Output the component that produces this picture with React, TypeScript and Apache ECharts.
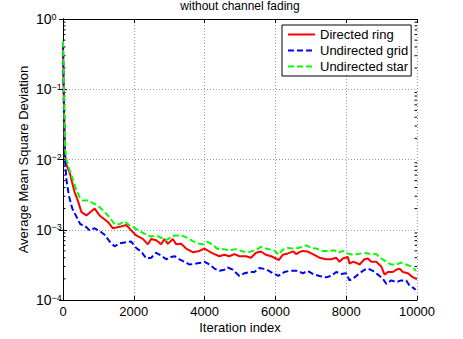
import { useEffect, useRef } from "react";
import * as echarts from "echarts";

const FONT = '"Liberation Sans", Arial, Helvetica, sans-serif';

const titleText = "without channel fading";
const xName = "Iteration index";
const yName = "Average Mean Square Deviation";
const seriesNames = ["Directed ring", "Undirected grid", "Undirected star"];
const seriesColors = ["#ff0000", "#0000ff", "#00ff00"];
const yDecades = [1, 0.1, 0.01, 0.001, 0.0001];

// Directed ring (red, solid)
const ringIter = [0, 30, 60, 90, 190, 330, 420, 517, 660, 893, 1034, 1269, 1410, 1598, 1786, 1927, 2068, 2256, 2397, 2491, 2632, 2773, 2867, 2961, 3102, 3196, 3337, 3478, 3666, 3854, 3995, 4136, 4277, 4418, 4559, 4700, 4841, 4982, 5170, 5311, 5452, 5593, 5734, 5875, 6016, 6094, 6207, 6349, 6443, 6509, 6585, 6679, 6773, 6915, 7056, 7245, 7433, 7575, 7716, 7811, 7905, 8046, 8093, 8188, 8282, 8376, 8518, 8612, 8706, 8848, 8989, 9084, 9178, 9319, 9414, 9508, 9602, 9744, 9885, 10000];
const ringMsd = [0.42, 0.045, 0.012, 0.0085, 0.0065, 0.0034, 0.0026, 0.0018, 0.0016, 0.002, 0.0016, 0.00129, 0.00105, 0.0011, 0.00117, 0.00098, 8.3e-4, 7.4e-4, 6.2e-4, 7.4e-4, 7.1e-4, 6.2e-4, 7.4e-4, 6.3e-4, 7.4e-4, 6.2e-4, 6.3e-4, 5.4e-4, 4.8e-4, 5.0e-4, 5.4e-4, 4.9e-4, 4.5e-4, 4.2e-4, 4.4e-4, 4.2e-4, 4.5e-4, 4.2e-4, 4.2e-4, 4.0e-4, 4.7e-4, 4.9e-4, 4.4e-4, 4.2e-4, 3.9e-4, 3.7e-4, 4.4e-4, 4.6e-4, 4.8e-4, 4.9e-4, 4.5e-4, 4.8e-4, 5.0e-4, 4.9e-4, 4.5e-4, 4.0e-4, 3.8e-4, 3.8e-4, 4.0e-4, 3.5e-4, 3.9e-4, 4.1e-4, 3.3e-4, 3.5e-4, 3.4e-4, 3.2e-4, 3.8e-4, 3.9e-4, 3.5e-4, 3.5e-4, 3.0e-4, 2.3e-4, 2.5e-4, 2.5e-4, 2.7e-4, 2.8e-4, 2.5e-4, 2.4e-4, 2.1e-4, 2.0e-4];

// Undirected grid (blue, dashed)
const gridIter = [0, 25, 56, 100, 170, 263, 376, 489, 611, 752, 893, 1034, 1175, 1316, 1457, 1598, 1740, 1927, 2068, 2209, 2350, 2491, 2632, 2773, 2914, 3055, 3149, 3290, 3431, 3572, 3760, 3900, 4000, 4136, 4277, 4418, 4559, 4653, 4794, 4982, 5123, 5264, 5405, 5546, 5734, 5875, 6080, 6255, 6396, 6537, 6632, 6773, 6915, 7056, 7245, 7433, 7575, 7716, 7858, 7999, 8093, 8235, 8376, 8518, 8612, 8754, 8895, 9037, 9131, 9272, 9414, 9555, 9697, 9791, 9885, 9961];
const gridMsd = [0.45, 0.06, 0.01, 0.005, 0.003, 0.002, 0.00155, 0.0012, 0.00115, 9.8e-4, 0.00105, 9.6e-4, 8.5e-4, 6.8e-4, 5.8e-4, 6.4e-4, 6.6e-4, 6.8e-4, 5.5e-4, 4.9e-4, 3.9e-4, 4.0e-4, 4.7e-4, 4.3e-4, 3.8e-4, 4.1e-4, 4.2e-4, 3.8e-4, 3.5e-4, 3.2e-4, 3.3e-4, 3.4e-4, 3.5e-4, 3.2e-4, 2.8e-4, 2.6e-4, 2.7e-4, 2.9e-4, 2.7e-4, 2.2e-4, 2.4e-4, 2.5e-4, 2.5e-4, 2.85e-4, 2.75e-4, 2.5e-4, 2.2e-4, 2.5e-4, 2.6e-4, 2.6e-4, 2.6e-4, 2.4e-4, 2.6e-4, 2.35e-4, 2.2e-4, 2.1e-4, 2.2e-4, 2.5e-4, 2.35e-4, 2.4e-4, 1.9e-4, 2.1e-4, 2.4e-4, 2.7e-4, 2.8e-4, 2.6e-4, 2.3e-4, 2.0e-4, 1.7e-4, 1.9e-4, 1.8e-4, 1.9e-4, 1.9e-4, 1.6e-4, 1.5e-4, 1.4e-4];

// Undirected star (green, dashed)
const starIter = [0, 30, 56, 94, 188, 282, 376, 470, 564, 705, 846, 987, 1128, 1316, 1457, 1598, 1740, 1880, 2021, 2162, 2350, 2491, 2632, 2773, 2914, 3008, 3102, 3243, 3384, 3525, 3666, 3807, 3948, 4089, 4230, 4371, 4512, 4700, 4888, 5076, 5264, 5453, 5594, 5736, 5877, 5990, 6080, 6207, 6349, 6490, 6632, 6773, 6868, 7009, 7150, 7339, 7528, 7669, 7763, 7905, 8046, 8188, 8329, 8518, 8706, 8848, 8989, 9131, 9272, 9414, 9555, 9697, 9838, 9980];
const starMsd = [0.48, 0.079, 0.015, 0.01, 0.0071, 0.0051, 0.0037, 0.0029, 0.0026, 0.0026, 0.0024, 0.0022, 0.0019, 0.0015, 0.0012, 0.0012, 0.00132, 0.00115, 0.00106, 9.6e-4, 8.5e-4, 8.0e-4, 8.3e-4, 7.7e-4, 7.1e-4, 7.6e-4, 8.2e-4, 8.3e-4, 8.2e-4, 7.6e-4, 6.9e-4, 6.4e-4, 6.2e-4, 6.7e-4, 6.1e-4, 5.3e-4, 5.3e-4, 5.1e-4, 5.3e-4, 4.9e-4, 4.8e-4, 5.2e-4, 5.7e-4, 5.4e-4, 5.2e-4, 5.0e-4, 4.4e-4, 5.2e-4, 5.5e-4, 5.4e-4, 5.5e-4, 5.7e-4, 6.0e-4, 5.5e-4, 5.4e-4, 5.0e-4, 5.0e-4, 5.1e-4, 4.7e-4, 5.0e-4, 4.6e-4, 4.4e-4, 4.5e-4, 4.7e-4, 4.5e-4, 4.5e-4, 3.9e-4, 3.5e-4, 3.2e-4, 3.2e-4, 3.4e-4, 3.2e-4, 3.0e-4, 2.6e-4];

const xMin = 0;
const xMax = 10000;
const xInterval = 2000;
const yMin = 1e-4;
const yMax = 1;

function zip(xs: number[], ys: number[]) {
  return xs.map((x, i) => [x, ys[i]]);
}

export default function App() {
  const ref = useRef<HTMLDivElement>(null);
  useEffect(() => {
    const chart = echarts.init(ref.current!, null, { renderer: "svg" });

    const minorVals: number[][] = [];
    for (let e = -4; e < 0; e++) {
      for (let m = 2; m <= 9; m++) {
        minorVals.push([0, m * Math.pow(10, e)]);
      }
    }

    const dotted = { color: "#9a9a9a", type: [1, 2] as any, width: 1 };
    const axisLineBlack = { show: true, lineStyle: { color: "#000", width: 1 } };

    const option: any = {
      animation: false,
      textStyle: { fontFamily: FONT },
      grid: { left: 63, right: 46, top: 19, bottom: 33 },
      graphic: [
        {
          type: "text",
          x: 240,
          y: 0,
          style: {
            text: titleText,
            fontSize: 12,
            fontFamily: FONT,
            fill: "#000",
            textAlign: "center",
            textVerticalAlign: "top",
          },
        },
      ],
      legend: {
        data: seriesNames,
        orient: "vertical",
        left: 282,
        top: 25,
        backgroundColor: "#fff",
        borderColor: "#000",
        borderWidth: 1,
        borderRadius: 0,
        padding: [3, 3, 3, 5],
        itemGap: 3,
        itemWidth: 27,
        itemHeight: 13,
        itemStyle: { opacity: 0 },
        textStyle: { fontSize: 13, color: "#000", fontFamily: FONT },
      },
      xAxis: [
        {
          type: "value",
          min: xMin,
          max: xMax,
          interval: xInterval,
          position: "bottom",
          axisLine: axisLineBlack,
          axisTick: { show: true, inside: true, length: 4, lineStyle: { color: "#000" } },
          axisLabel: { fontSize: 13, color: "#000", margin: 5, fontFamily: FONT, formatter: (v: number) => String(v) },
          splitLine: { show: true, lineStyle: dotted },
          name: xName,
          nameLocation: "middle",
          nameGap: 21,
          nameMoveOverlap: false,
          nameTextStyle: { fontSize: 13, color: "#000", fontFamily: FONT },
        },
        {
          type: "value",
          min: xMin,
          max: xMax,
          interval: xInterval,
          position: "top",
          axisLine: axisLineBlack,
          axisTick: { show: true, inside: true, length: 4, lineStyle: { color: "#000" } },
          axisLabel: { show: false },
          splitLine: { show: false },
        },
      ],
      yAxis: [
        {
          type: "log",
          logBase: 10,
          min: yMin,
          max: yMax,
          splitNumber: 4,
          position: "left",
          axisLine: axisLineBlack,
          axisTick: { show: true, inside: true, length: 4, lineStyle: { color: "#000" } },
          splitLine: { show: true, lineStyle: dotted },
          axisLabel: { show: false },
          name: yName,
          nameLocation: "middle",
          nameGap: 33,
          nameMoveOverlap: false,
          nameTextStyle: { fontSize: 13, color: "#000", fontFamily: FONT },
        },
        {
          type: "log",
          logBase: 10,
          min: yMin,
          max: yMax,
          splitNumber: 4,
          position: "right",
          axisLine: axisLineBlack,
          axisTick: { show: true, inside: true, length: 4, lineStyle: { color: "#000" } },
          axisLabel: { show: false },
          splitLine: { show: false },
        },
      ],
      series: [
        {
          type: "custom",
          silent: true,
          xAxisIndex: 0,
          yAxisIndex: 0,
          data: minorVals,
          renderItem: (params: any, api: any) => {
            const p = api.coord([0, api.value(1)]);
            const cs = params.coordSys;
            return {
              type: "group",
              children: [
                { type: "line", shape: { x1: cs.x, y1: p[1], x2: cs.x + 2.5, y2: p[1] }, style: { stroke: "#000", lineWidth: 1 } },
                { type: "line", shape: { x1: cs.x + cs.width - 2.5, y1: p[1], x2: cs.x + cs.width, y2: p[1] }, style: { stroke: "#000", lineWidth: 1 } },
              ],
            };
          },
        },
        {
          // y-axis tick labels (10^k), placed through the axis scale
          type: "custom",
          silent: true,
          clip: false,
          xAxisIndex: 0,
          yAxisIndex: 0,
          data: yDecades.map((v) => [0, v]),
          renderItem: (params: any, api: any) => {
            const v = api.value(1);
            const p = api.coord([0, v]);
            const cs = params.coordSys;
            const e = Math.round(Math.log10(v));
            const exp = e < 0 ? "\u2212" + -e : String(e);
            return {
              type: "text",
              x: cs.x - 27,
              y: p[1],
              style: {
                text: "{b|10}{e|" + exp + "}",
                align: "left",
                verticalAlign: "middle",
                fill: "#000",
                font: "14px " + FONT,
                rich: {
                  b: { fontSize: 14, lineHeight: 14, fill: "#000", fontFamily: FONT },
                  e: { fontSize: 9, lineHeight: 9, fill: "#000", verticalAlign: "top", fontFamily: FONT },
                },
              },
            };
          },
        },
        {
          name: seriesNames[0],
          type: "line",
          symbol: "none",
          showSymbol: false,
          data: zip(ringIter, ringMsd),
          lineStyle: { color: seriesColors[0], width: 2 },
          itemStyle: { color: seriesColors[0] },
        },
        {
          name: seriesNames[1],
          type: "line",
          symbol: "none",
          showSymbol: false,
          data: zip(gridIter, gridMsd),
          lineStyle: { color: seriesColors[1], width: 2, type: [6, 3] },
          itemStyle: { color: seriesColors[1] },
        },
        {
          name: seriesNames[2],
          type: "line",
          symbol: "none",
          showSymbol: false,
          data: zip(starIter, starMsd),
          lineStyle: { color: seriesColors[2], width: 2, type: [6, 3] },
          itemStyle: { color: seriesColors[2] },
        },
      ],
    };
    chart.setOption(option);
    return () => chart.dispose();
  }, []);
  return (
    <div
      ref={ref}
      style={{ position: "fixed", left: 0, top: 0, width: 463, height: 339, background: "#fff" }}
    />
  );
}
